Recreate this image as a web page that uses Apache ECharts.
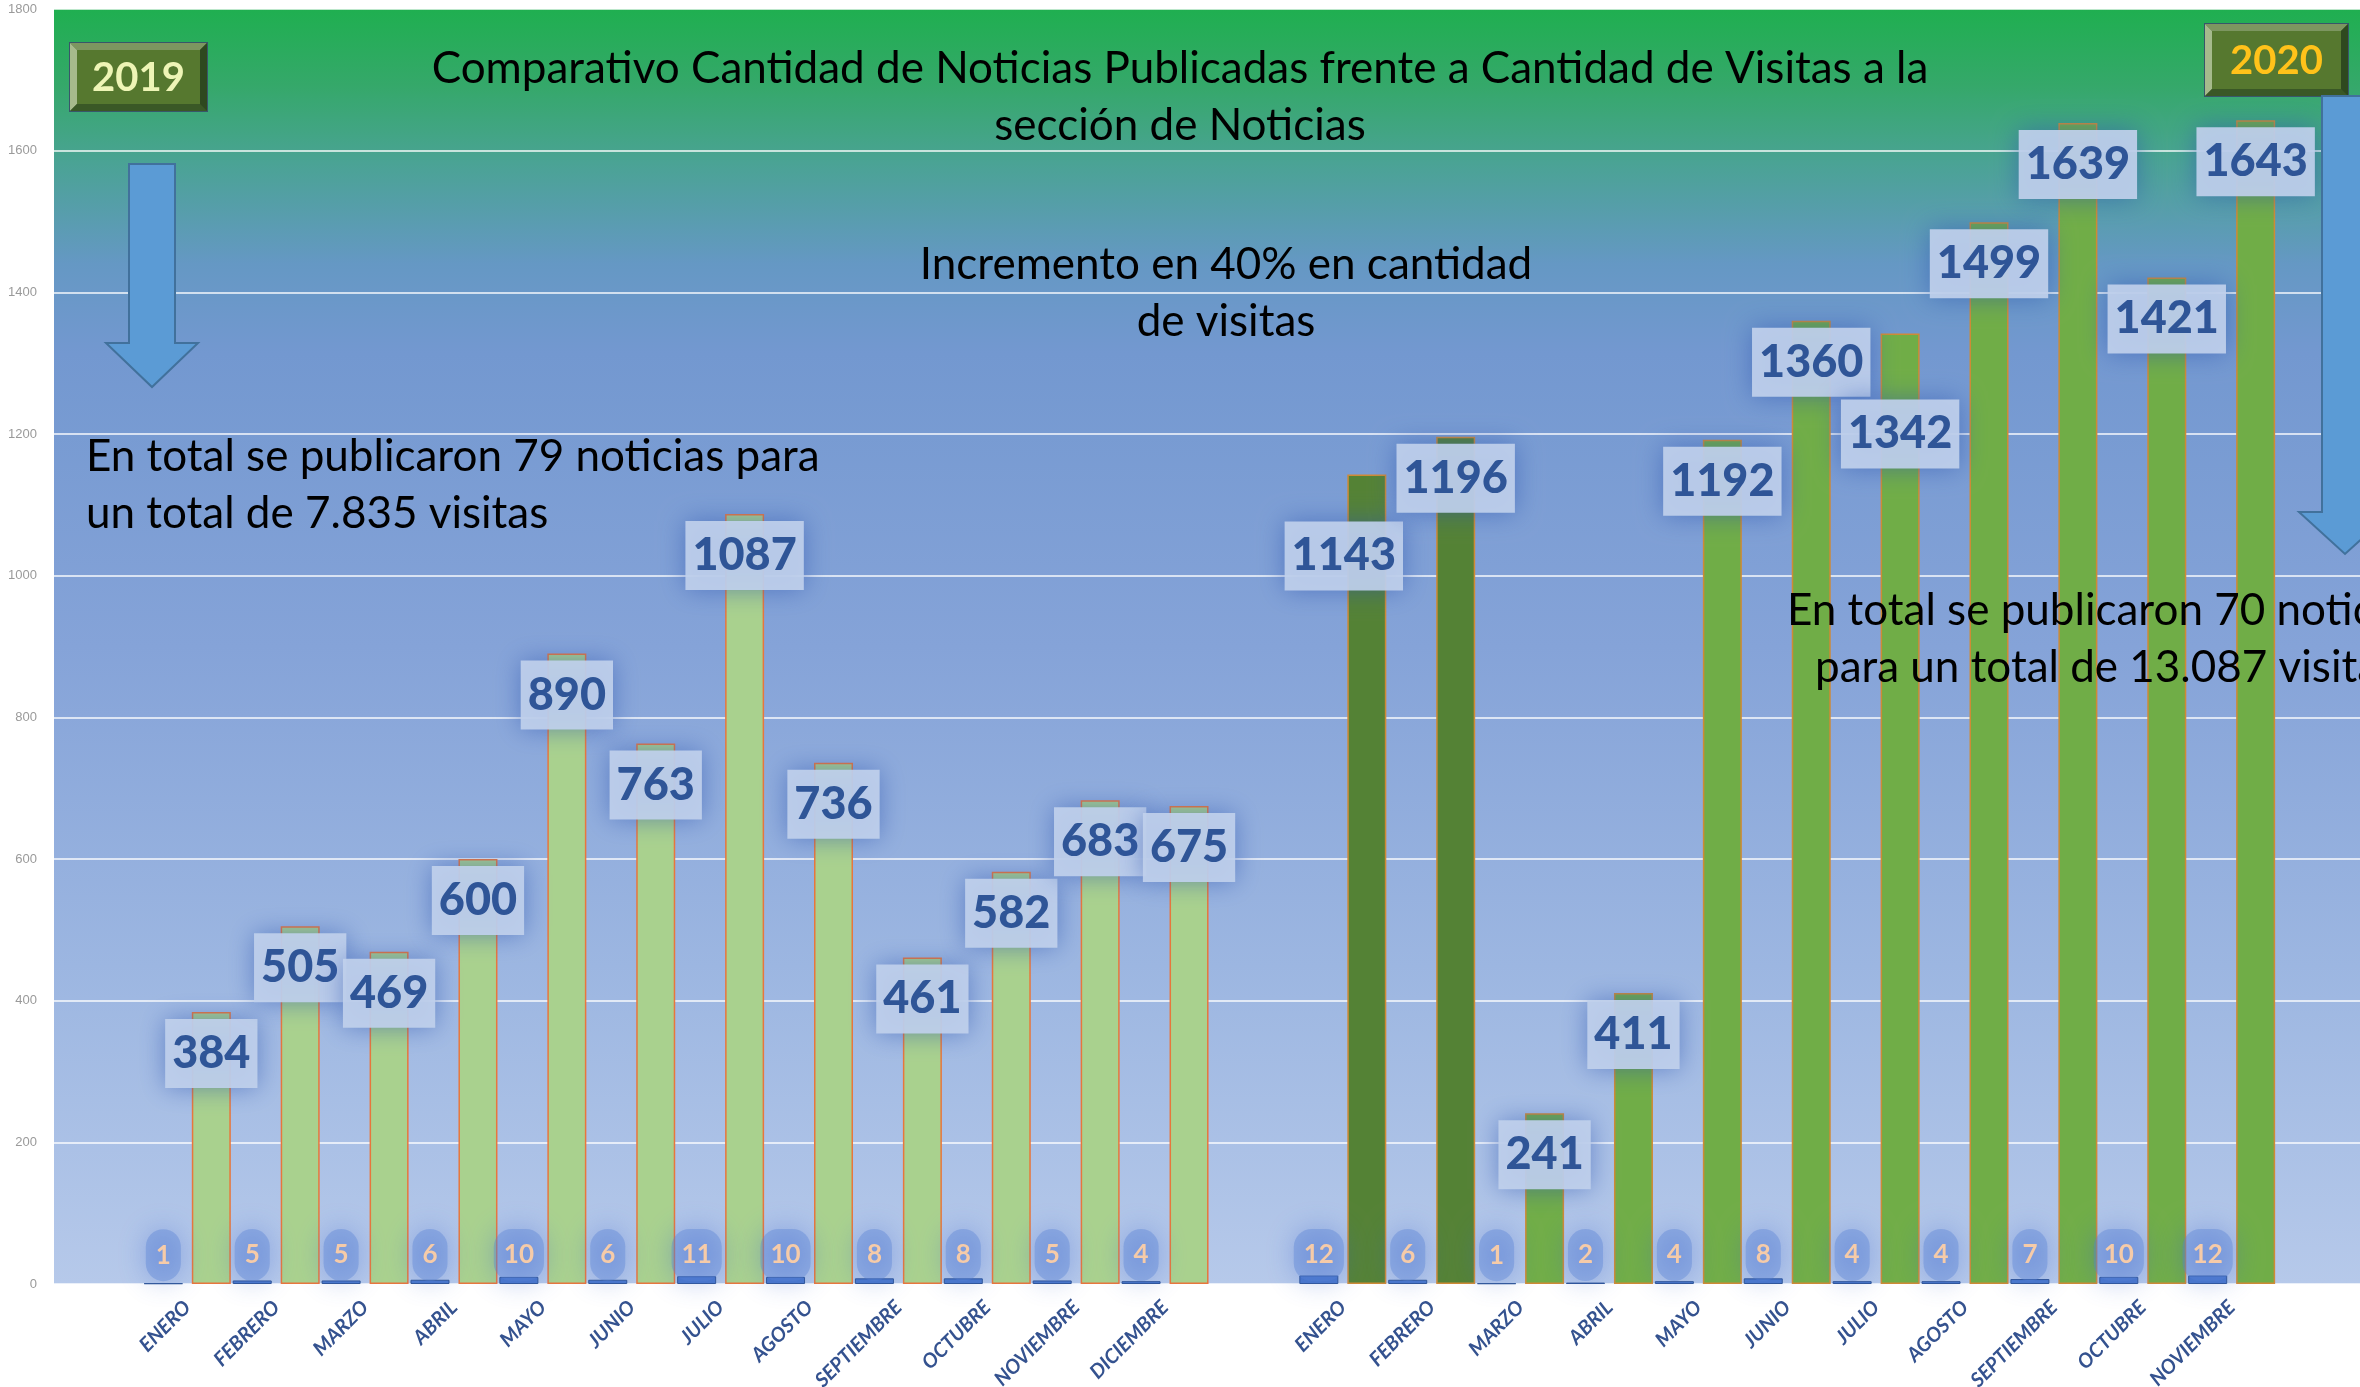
<!DOCTYPE html>
<html>
<head>
<meta charset="utf-8">
<script src="https://cdn.jsdelivr.net/npm/echarts@6/dist/echarts.min.js"></script>
<style>
  html, body { margin: 0; padding: 0; background: #fff; }
  #chart { width: 2360px; height: 1387px; }
</style>
</head>
<body>
<div id="chart"></div>
<script>
var months2019 = ['ENERO', 'FEBRERO', 'MARZO', 'ABRIL', 'MAYO', 'JUNIO', 'JULIO', 'AGOSTO', 'SEPTIEMBRE', 'OCTUBRE', 'NOVIEMBRE', 'DICIEMBRE'];
var months2020 = ['ENERO', 'FEBRERO', 'MARZO', 'ABRIL', 'MAYO', 'JUNIO', 'JULIO', 'AGOSTO', 'SEPTIEMBRE', 'OCTUBRE', 'NOVIEMBRE'];
var noticias2019 = [1, 5, 5, 6, 10, 6, 11, 10, 8, 8, 5, 4];
var visitas2019 = [384, 505, 469, 600, 890, 763, 1087, 736, 461, 582, 683, 675];
var noticias2020 = [12, 6, 1, 2, 4, 8, 4, 4, 7, 10, 12];
var visitas2020 = [1143, 1196, 241, 411, 1192, 1360, 1342, 1499, 1639, 1421, 1643];

var chartDom = document.getElementById('chart');
var myChart = echarts.init(chartDom);
var option;

// blank slot at start, between years and at the (cut) end
var categories = [''].concat(months2019, [''], months2020, ['']);
var noticiasData = ['-'].concat(noticias2019, ['-'], noticias2020, ['-']);

var visitasData = ['-'];
visitas2019.forEach(function (v) {
  visitasData.push({ value: v, itemStyle: { color: '#a9d18e', borderColor: '#e8763c' } });
});
visitasData.push('-');
visitas2020.forEach(function (v, i) {
  var item = { value: v, itemStyle: { color: i < 2 ? '#548235' : '#70ad47', borderColor: '#cf8a35' } };
  if (i === 0) item.label = { offset: [-23, 40] };  // moved by hand in the original
  if (i === 6) item.label = { offset: [0, 59] };
  visitasData.push(item);
});
visitasData.push('-');

function badge(x, y, w, h, text, color) {
  var b = 7;
  return {
    type: 'group',
    z: 100,
    children: [
      { type: 'rect', shape: { x: x, y: y, width: w, height: h }, style: { fill: '#3e5f2a', stroke: '#38566a', lineWidth: 2 } },
      { type: 'polygon', shape: { points: [[x, y], [x + w, y], [x + w - b, y + b], [x + b, y + b]] }, style: { fill: '#7d9660' } },
      { type: 'polygon', shape: { points: [[x, y], [x + b, y + b], [x + b, y + h - b], [x, y + h]] }, style: { fill: '#a6ba8c' } },
      { type: 'polygon', shape: { points: [[x, y + h], [x + b, y + h - b], [x + w - b, y + h - b], [x + w, y + h]] }, style: { fill: '#3a5826' } },
      { type: 'polygon', shape: { points: [[x + w, y], [x + w, y + h], [x + w - b, y + h - b], [x + w - b, y + b]] }, style: { fill: '#2e491f' } },
      { type: 'rect', shape: { x: x + b, y: y + b, width: w - 2 * b, height: h - 2 * b }, style: { fill: '#56782f' } },
      { type: 'text', x: x + w / 2, y: y + h / 2 + 1, style: { text: text, fill: color, fontFamily: 'Lato', fontWeight: 'bold', fontSize: 40, align: 'center', verticalAlign: 'middle' } }
    ]
  };
}

function arrow(cx, top, headTop, tip) {
  return {
    type: 'polygon',
    z: 100,
    shape: {
      points: [[cx - 23, top], [cx + 23, top], [cx + 23, headTop], [cx + 46, headTop], [cx, tip], [cx - 46, headTop], [cx - 23, headTop]]
    },
    style: { fill: '#5b9bd5', stroke: '#41719c', lineWidth: 2 }
  };
}

function note(x, y, text, align) {
  return {
    type: 'text', z: 100, x: x, y: y,
    style: { text: text, fill: '#000', fontFamily: 'Lato', fontSize: 44, lineHeight: 57, align: align || 'left', verticalAlign: 'middle' }
  };
}

option = {
  backgroundColor: '#fff',
  animation: false,
  grid: {
    left: 54, top: 9, width: 2311, height: 1275,
    outerBoundsMode: 'none',
    show: true, borderWidth: 0,
    backgroundColor: new echarts.graphic.LinearGradient(0, 0, 0, 1, [
      { offset: 0, color: '#1faf50' },
      { offset: 0.06, color: '#35a86a' },
      { offset: 0.12, color: '#4aa394' },
      { offset: 0.2, color: '#6598c4' },
      { offset: 0.27, color: '#7398d0' },
      { offset: 0.5, color: '#85a3d8' },
      { offset: 0.75, color: '#9cb6e1' },
      { offset: 1, color: '#b6c9ea' }
    ])
  },
  xAxis: {
    type: 'category',
    data: categories,
    axisLine: { show: false },
    axisTick: { show: false },
    axisLabel: {
      interval: 0, rotate: 45, margin: 20,
      color: '#34528f', fontFamily: 'Lato', fontSize: 20, fontWeight: 'bold', fontStyle: 'italic',
      textShadowColor: 'rgba(255,255,255,0.8)', textShadowBlur: 3
    }
  },
  yAxis: {
    type: 'value',
    min: 0, max: 1800, interval: 200,
    axisLine: { show: false },
    axisTick: { show: false },
    axisLabel: { color: '#9a9a9a', fontSize: 13, margin: 17, formatter: function (v) { return String(v); } },
    splitLine: { lineStyle: { color: 'rgba(255,255,255,0.7)', width: 2 } }
  },
  series: [
    {
      name: 'Noticias',
      type: 'bar',
      data: noticiasData,
      barWidth: 39,
      barGap: '23%',
      itemStyle: { color: '#4a78cc', borderColor: '#2f5597', borderWidth: 1 },
      label: {
        show: true, position: 'insideBottom', distance: 3,
        color: '#f6cba8', fontFamily: 'Lato', fontWeight: 'bold', fontSize: 26,
        backgroundColor: 'rgba(86,128,212,0.38)', borderRadius: 18, padding: [13, 10],
        shadowBlur: 28, shadowColor: 'rgba(60,100,205,0.95)'
      }
    },
    {
      name: 'Visitas',
      type: 'bar',
      data: visitasData,
      barWidth: 39,
      itemStyle: { borderWidth: 1.5 },
      label: {
        show: true, position: 'insideTop', distance: 7,
        color: '#2f5597', fontFamily: 'Lato', fontWeight: 900, fontSize: 45, lineHeight: 45,
        backgroundColor: 'rgba(192,208,236,0.92)', padding: [12, 7],
        shadowBlur: 26, shadowColor: 'rgba(45,85,175,0.6)'
      }
    }
  ],
  graphic: [
    note(1180, 97, 'Comparativo Cantidad de Noticias Publicadas frente a Cantidad de Visitas a la\nsección de Noticias', 'center'),
    note(1226, 293, 'Incremento en 40% en cantidad\nde visitas', 'center'),
    note(86, 485, 'En total se publicaron 79 noticias para\nun total de 7.835 visitas'),
    note(1787, 611, 'En total se publicaron 70 noticias'),
    note(1815, 668, 'para un total de 13.087 visitas'),
    arrow(152, 164, 343, 387),
    arrow(2345, 96, 512, 554),
    badge(70, 43, 137, 68, '2019', '#eef5b6'),
    badge(2205, 24, 143, 72, '2020', '#ffc21a')
  ]
};

option && myChart.setOption(option);
</script>
</body>
</html>
